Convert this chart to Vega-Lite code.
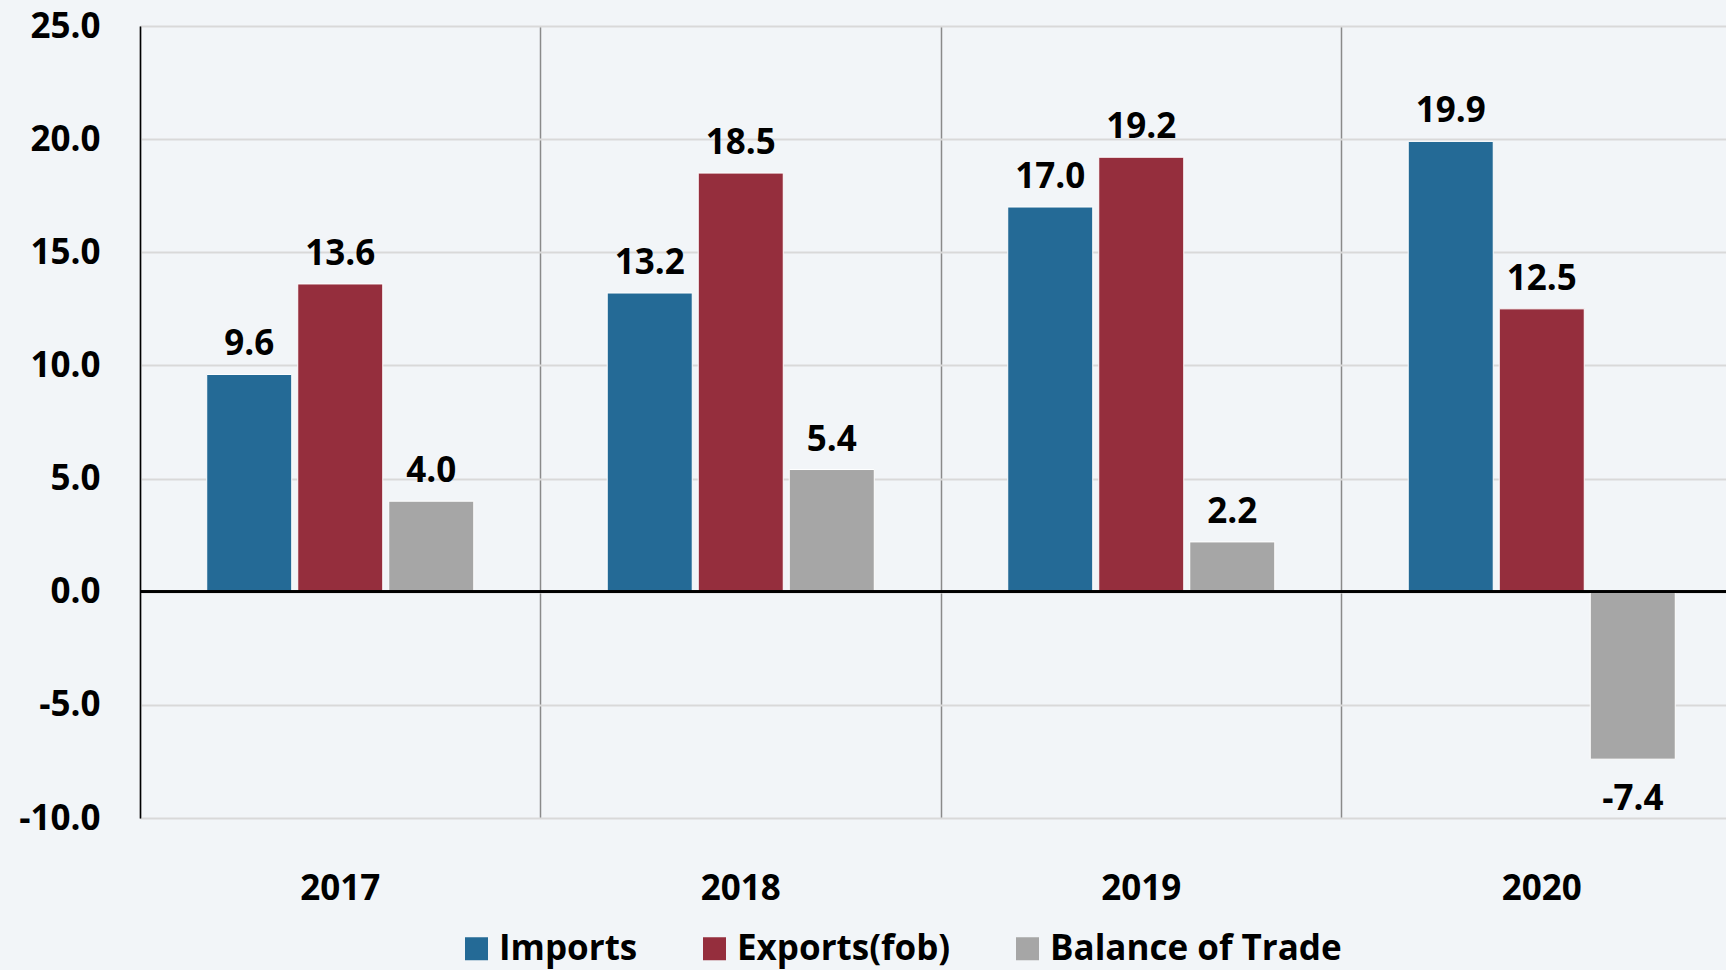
{
  "$schema": "https://vega.github.io/schema/vega-lite/v6.json",
  "width": 1586,
  "height": 792,
  "autosize": {"type": "none"},
  "padding": {"left": 140, "top": 26, "right": 0, "bottom": 152},
  "background": "#f2f5f8",
  "config": {
    "view": {"stroke": null},
    "font": "Open Sans",
    "locale": {"number": {"decimal": ".", "thousands": ",", "grouping": [3], "currency": ["$", ""], "minus": "-"}},
    "axis": {"labelFont": "Open Sans", "labelFontWeight": "bold", "labelColor": "#000000"},
    "legend": {"labelFont": "Open Sans"}
  },
  "data": {
    "values": [
      {"year": "2017", "series": "Imports", "value": 9.6},
      {"year": "2017", "series": "Exports(fob)", "value": 13.6},
      {"year": "2017", "series": "Balance of Trade", "value": 4.0},
      {"year": "2018", "series": "Imports", "value": 13.2},
      {"year": "2018", "series": "Exports(fob)", "value": 18.5},
      {"year": "2018", "series": "Balance of Trade", "value": 5.4},
      {"year": "2019", "series": "Imports", "value": 17.0},
      {"year": "2019", "series": "Exports(fob)", "value": 19.2},
      {"year": "2019", "series": "Balance of Trade", "value": 2.2},
      {"year": "2020", "series": "Imports", "value": 19.9},
      {"year": "2020", "series": "Exports(fob)", "value": 12.5},
      {"year": "2020", "series": "Balance of Trade", "value": -7.4}
    ]
  },
  "encoding": {
    "x": {
      "field": "year", "type": "nominal", "title": null,
      "scale": {"range": [0, 1602], "paddingInner": 0, "paddingOuter": 0},
      "axis": {
        "labelAngle": 0, "labelFontSize": 35, "labelPadding": 53, "ticks": false, "domain": false,
        "grid": true, "bandPosition": 0, "gridColor": "#8a8a8a", "gridWidth": 1.5
      }
    },
    "xOffset": {
      "field": "series", "type": "nominal",
      "sort": ["Imports", "Exports(fob)", "Balance of Trade"],
      "scale": {"paddingInner": 0.066, "paddingOuter": 0.733}
    },
    "y": {
      "field": "value", "type": "quantitative", "title": null,
      "scale": {"domain": [-10, 25], "nice": false, "zero": false},
      "axis": {
        "values": [-10, -5, 0, 5, 10, 15, 20, 25], "format": ".1f",
        "labelFontSize": 35, "labelPadding": 40, "ticks": false,
        "domain": true, "domainColor": "#000000", "domainWidth": 1.5,
        "grid": true, "gridColor": "#d9d9d9", "gridWidth": 2
      }
    }
  },
  "layer": [
    {
      "mark": {"type": "bar", "stroke": "#ffffff", "strokeWidth": 1},
      "encoding": {
        "color": {
          "field": "series", "type": "nominal",
          "sort": ["Imports", "Exports(fob)", "Balance of Trade"],
          "scale": {"domain": ["Imports", "Exports(fob)", "Balance of Trade"], "range": ["#246a96", "#952e3d", "#a6a6a6"]},
          "legend": {
            "title": null, "orient": "none", "direction": "horizontal",
            "legendX": 319, "legendY": 905,
            "symbolType": "square", "symbolSize": 529, "symbolStrokeWidth": 0,
            "labelFontSize": 35, "labelFontWeight": "bold", "labelColor": "#000000",
            "labelOffset": 5, "columnPadding": 59, "labelLimit": 400
          }
        }
      }
    },
    {
      "transform": [{"filter": "datum.value >= 0"}],
      "mark": {"type": "text", "baseline": "bottom", "dy": -12, "fontSize": 35, "fontWeight": "bold", "color": "#000000"},
      "encoding": {"text": {"field": "value", "type": "quantitative", "format": ".1f"}}
    },
    {
      "transform": [{"filter": "datum.value < 0"}],
      "mark": {"type": "text", "baseline": "top", "dy": 23, "fontSize": 35, "fontWeight": "bold", "color": "#000000"},
      "encoding": {"text": {"field": "value", "type": "quantitative", "format": ".1f"}}
    },
    {
      "mark": {"type": "rule", "color": "#000000", "strokeWidth": 2},
      "encoding": {"y": {"datum": 0}, "x": null, "xOffset": null}
    }
  ]
}
